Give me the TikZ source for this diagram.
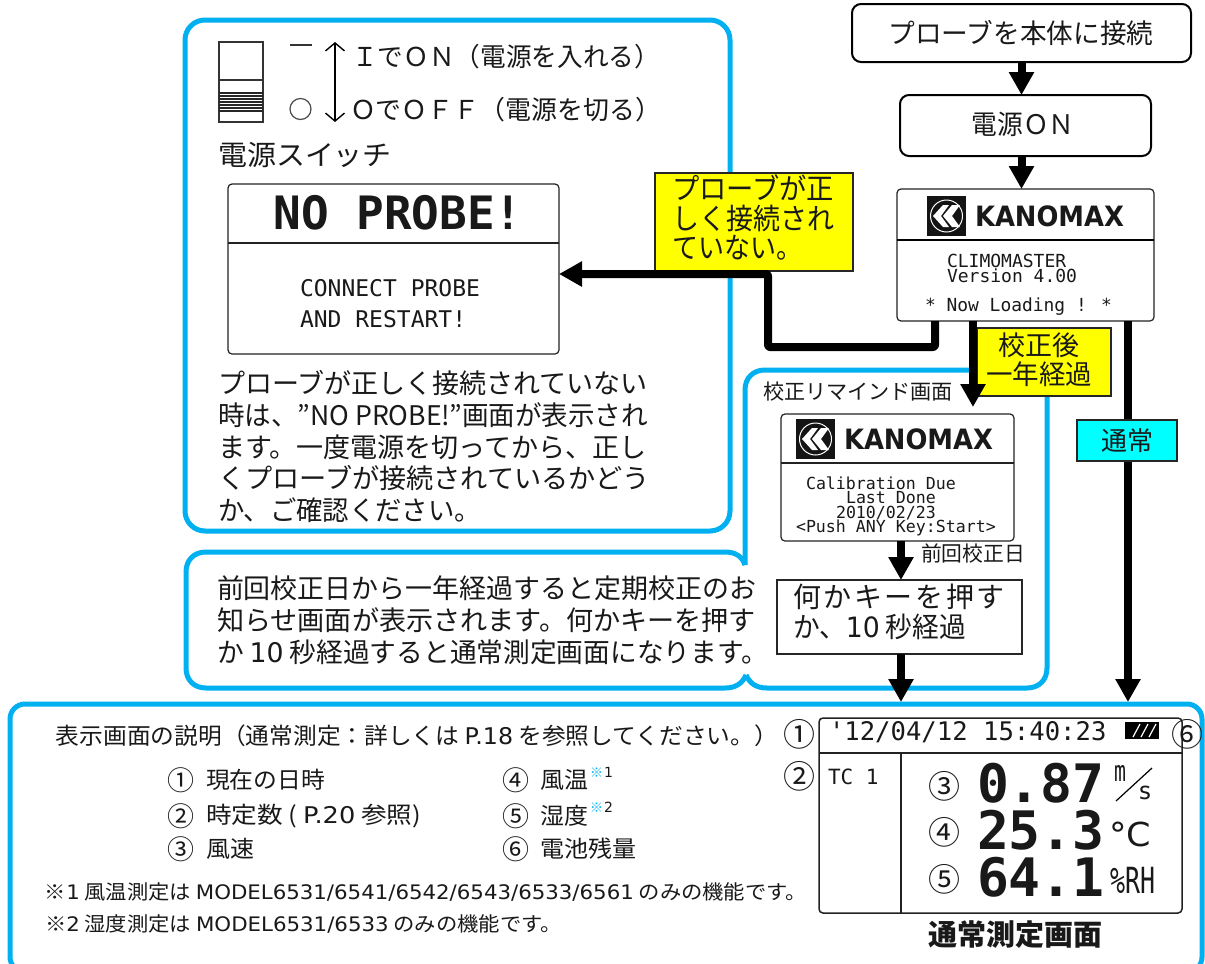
\documentclass[tikz,border=0pt]{standalone}
\usepackage{fontspec}
\usepackage{graphicx}
\usetikzlibrary{arrows.meta,calc}
\setmainfont{Noto Sans CJK JP}
\newfontfamily\monof{DejaVu Sans Mono}
\newfontfamily\djv{DejaVu Sans}
\newcommand\fs[1]{\fontsize{#1pt}{#1pt}\selectfont}
\newcommand\fw[2]{\resizebox{#1pt}{\height}{#2}}
\definecolor{cy}{HTML}{00B0F0}
\definecolor{lcd}{HTML}{222222}
\definecolor{ylw}{HTML}{FFFF00}
\definecolor{cyb}{HTML}{00FFFF}
\tikzset{
  x=1pt,y=-1pt,
  panel/.style={draw=cy,line width=5pt,rounded corners=20pt},
  txt/.style={inner sep=0pt,outer sep=0pt,anchor=west,text=black!90},
  ctxt/.style={inner sep=0pt,outer sep=0pt,anchor=center,text=black!90},
  lcdtxt/.style={txt,font=\monof},
  flowbox/.style={draw=black,line width=2pt,rounded corners=9pt,fill=white,inner sep=0pt,outer sep=0pt},
  screen/.style={draw=lcd,line width=1.2pt,rounded corners=4pt,fill=white,inner sep=0pt,outer sep=0pt},
  plainbox/.style={draw=black!85,line width=2pt,inner sep=0pt,outer sep=0pt},
  yellowbox/.style={plainbox,fill=ylw},
  cyanbox/.style={plainbox,fill=cyb},
  flowarrow/.style={line width=8pt,-{Triangle[length=23pt,width=24pt]}},
  logo/.pic={
    \fill[black!92] (0,0) rectangle (39,40);
    \draw[white,line width=1pt] (19.5,20) circle[radius=16];
    \fill[white] (6,20) -- (16,9) -- (22,9) -- (14,20) -- (22,31) -- (16,31) -- cycle;
    \fill[white] (16,20) -- (25,9) -- (33,9) -- (25,20) -- (33,31) -- (25,31) -- cycle;
    \node[txt,font=\djv\bfseries\fs{28}] (w) at (48,20) {\fw{149}{KANOMAX}};
  }
}
\begin{document}
\begin{tikzpicture}
\useasboundingbox (0,0) rectangle (1205,964);
\fill[white] (0,0) rectangle (1205,964);
% panels
\draw[panel] (185,20) rectangle (730,531);
\draw[cy,line width=5pt,line join=round]
  (745,565) -- (745,390) .. controls (745,378) and (753,370) .. (765,370) -- (1027,370)
  .. controls (1039,370) and (1047,378) .. (1047,390) -- (1047,668)
  .. controls (1047,680) and (1039,688) .. (1027,688) -- (767,688)
  .. controls (757,688) and (750,684) .. (746,675);
\draw[cy,line width=5pt,line join=round]
  (745,565) .. controls (742,556) and (735,552) .. (725,552) -- (206,552)
  .. controls (194,552) and (186,560) .. (186,572) -- (186,668)
  .. controls (186,680) and (194,688) .. (206,688) -- (725,688)
  .. controls (735,688) and (742,684) .. (746,675);
\begin{scope}
\clip (0,0) rectangle (1205,964);
\draw[panel,rounded corners=15pt] (10,704) rectangle (1202,972);
\end{scope}
% switch icon
\draw[black!80,line width=1.4pt] (219,42) rectangle (263,122);
\draw[black!80,line width=1.2pt] (219,80) -- (263,80);
\foreach \yy in {93,96,99,102,105,108,111}{\draw[black!85,line width=1.2pt] (219,\yy) -- (263,\yy);}
\draw[black!80,line width=1.2pt] (290,45) -- (312,45);
\draw[black!70,line width=1.2pt] (300.5,109) circle[radius=10.5];
\coordinate (swtop) at (335,42);
\coordinate (swbot) at (335,122);
\draw[black,line width=1.4pt,{Straight Barb[length=8pt,width=19pt]}-{Straight Barb[length=8pt,width=19pt]}] (swtop) -- (swbot);
\node[txt,font=\fs{26}] (ton) at (352,57) {\fw{308}{ＩでＯＮ（電源を入れる）}};
\node[txt,font=\fs{26}] (toff) at (350,110) {\fw{311}{ＯでＯＦＦ（電源を切る）}};
\node[txt,font=\fs{28}] (swlabel) at (218,155) {\fw{174}{電源スイッチ}};
% no probe screen
\node[screen,minimum width=331pt,minimum height=170pt] (noprobe) at (393.5,269) {};
\draw[lcd,line width=1.2pt] (noprobe.west |- 0,243) -- (noprobe.east |- 0,243);
\node[ctxt,font=\monof\bfseries\fs{46}] (nptitle) at (398,213) {NO PROBE!};
\node[lcdtxt,font=\monof\fs{23}] (np1) at (300,288) {CONNECT PROBE};
\node[lcdtxt,font=\monof\fs{23}] (np2) at (300,319) {AND RESTART!};
% paragraph
\node[txt,font=\fs{27}] (pa1) at (218,383) {\fw{430}{プローブが正しく接続されていない}};
\node[txt,font=\fs{27}] (pa2) at (218,415) {\fw{430}{時は、”NO PROBE!”画面が表示され}};
\node[txt,font=\fs{27}] (pa3) at (218,447) {\fw{429}{ます。一度電源を切ってから、正し}};
\node[txt,font=\fs{27}] (pa4) at (218,478) {\fw{432}{くプローブが接続されているかどう}};
\node[txt,font=\fs{27}] (pa5) at (218,510) {\fw{263}{か、ご確認ください。}};
% panel B text
\node[txt,font=\fs{27}] (pb1) at (217,588) {\fw{539}{前回校正日から一年経過すると定期校正のお}};
\node[txt,font=\fs{27}] (pb2) at (217,620) {\fw{539}{知らせ画面が表示されます。何かキーを押す}};
\node[txt,font=\fs{27}] (pb3) at (217,652) {\fw{551}{か {\djv 10} 秒経過すると通常測定画面になります。}};
% flow boxes
\node[flowbox,minimum width=339pt,minimum height=58pt] (conn) at (1021.5,33) {};
\node[ctxt,font=\fs{27}] (connt) at (1021,33) {\fw{265}{プローブを本体に接続}};
\node[flowbox,minimum width=251pt,minimum height=61pt] (pwr) at (1025.5,125.5) {};
\node[ctxt,font=\fs{27}] (pwrt) at (1023,124) {\fw{103}{電源ＯＮ}};
\node[screen,minimum width=257pt,minimum height=132pt] (kano) at (1025.5,255) {};
\draw[black,line width=1.2pt] (kano.west |- 0,240) -- (kano.east |- 0,240);
\pic (lg1) at (927,196) {logo};
\node[lcdtxt,font=\monof\fs{18}] (k1) at (947,261) {CLIMOMASTER};
\node[lcdtxt,font=\monof\fs{18}] (k2) at (947,276) {Version 4.00};
\node[lcdtxt,font=\monof\fs{18}] (k3) at (925,307) {\fw{187}{* Now Loading ! *}};
% yellow labels
\node[yellowbox,minimum width=198pt,minimum height=98pt] (yl1) at (754,222) {};
\node[txt,font=\fs{29}] (y11) at (672,188) {\fw{162}{プローブが正}};
\node[txt,font=\fs{29}] (y12) at (672,218) {\fw{162}{しく接続され}};
\node[txt,font=\fs{29}] (y13) at (672,248) {\fw{130}{ていない。}};
\node[yellowbox,minimum width=134pt,minimum height=68pt] (yl2) at (1044,362) {};
\node[ctxt,font=\fs{27}] (y21) at (1039,345) {校正後};
\node[ctxt,font=\fs{27}] (y22) at (1039,374) {\fw{106}{一年経過}};
% calibration
\node[txt,font=\fs{21}] (caltitle) at (763,392) {\fw{190}{校正リマインド画面}};
\node[screen,minimum width=233pt,minimum height=127pt] (cal) at (897.5,477.5) {};
\draw[lcd,line width=1.2pt] (cal.west |- 0,463) -- (cal.east |- 0,463);
\pic (lg2) at (796,419) {logo};
\node[lcdtxt,font=\monof\fs{16.6}] (c1) at (806,483) {Calibration Due};
\node[lcdtxt,font=\monof\fs{16.6}] (c2) at (846,498) {Last Done};
\node[lcdtxt,font=\monof\fs{16.6}] (c3) at (836,513) {2010/02/23};
\node[lcdtxt,font=\monof\fs{16.6}] (c4) at (796,528) {<Push ANY Key:Start>};
\node[txt,font=\fs{21}] (lastdate) at (921,553) {\fw{104}{前回校正日}};
\node[plainbox,fill=white,minimum width=245pt,minimum height=74pt] (press) at (899.5,617) {};
\node[txt,font=\fs{28}] (pr1) at (793,597) {\makebox[212pt][s]{何\hfil か\hfil キ\hfil ー\hfil を\hfil 押\hfil す}};
\node[txt,font=\fs{28}] (pr2) at (793,627) {\fw{173}{か、{\djv 10} 秒経過}};
% normal screen
\node[screen,minimum width=363pt,minimum height=195pt,line width=1.5pt] (main) at (1000.5,815.5) {};
\draw[lcd,line width=1.5pt] (main.west |- 0,753) -- (main.east |- 0,753);
\draw[lcd,line width=1.5pt] (901,753) -- (901,0 |- main.south);
\node[lcdtxt,font=\monof\fs{25.6}] (date) at (829,732) {'12/04/12 15:40:23};
\fill[black] (1125,722) rectangle (1159,739);
\foreach \xx in {1133,1141,1149}{\draw[white,line width=1.2pt] (\xx,737) -- (\xx+7,724);}
\node[ctxt,font=\fs{32}] (n1) at (799,734) {①};
\node[ctxt,font=\fs{32}] (n6) at (1187,734) {⑥};
\node[ctxt,font=\fs{32}] (n2) at (799,776) {②};
\node[lcdtxt,font=\monof\fs{21}] (tc) at (828,777) {TC 1};
\node[ctxt,font=\fs{32}] (n3) at (944,786) {③};
\node[ctxt,font=\fs{32}] (n4) at (944,832) {④};
\node[ctxt,font=\fs{32}] (n5) at (944,879) {⑤};
\node[lcdtxt,font=\monof\bfseries\fs{53}] (v1) at (977,783) {0.87};
\node[lcdtxt,font=\monof\bfseries\fs{53}] (v2) at (977,830) {25.3};
\node[lcdtxt,font=\monof\bfseries\fs{53}] (v3) at (977,877) {64.1};
\node[ctxt,font=\monof\fs{22}] (um) at (1120,773) {\scalebox{.9}[1.3]{m}};
\node[ctxt,font=\monof\fs{24}] (us) at (1145,793) {s};
\draw[black,line width=1.2pt] (1116,801) -- (1152,768);
\node[lcdtxt,font=\djv\fs{33}] (uc) at (1109,834) {\fw{42}{°C}};
\node[lcdtxt,font=\monof\fs{24}] (ur) at (1110,880) {\fw{45}{\scalebox{1}[1.5]{\%RH}}};
\node[ctxt,font=\bfseries\fs{29}] (mainlabel) at (1015,935) {\fw{174}{通常測定画面}};
% description
\node[txt,font=\fs{23}] (d0) at (56,736) {\fw{722}{表示画面の説明（通常測定：詳しくは {\djv P.18} を参照してください。）}};
\node[ctxt,font=\fs{27}] (l1) at (181,780) {①};
\node[txt,font=\fs{23}] (l1t) at (206,780) {\fw{119}{現在の日時}};
\node[ctxt,font=\fs{27}] (l2) at (181,816) {②};
\node[txt,font=\fs{23}] (l2t) at (206,816) {\fw{215}{時定数 ( {\djv P.20} 参照)}};
\node[ctxt,font=\fs{27}] (l3) at (181,849) {③};
\node[txt,font=\fs{23}] (l3t) at (206,849) {\fw{48}{風速}};
\node[ctxt,font=\fs{27}] (l4) at (516,780) {④};
\node[txt,font=\fs{23}] (l4t) at (540,780) {\fw{48}{風温}};
\node[txt,font=\fs{13},text=cy] (l4a) at (590,773) {※};
\node[txt,font=\djv\fs{14}] (l4b) at (604,772) {1};
\node[ctxt,font=\fs{27}] (l5) at (516,816) {⑤};
\node[txt,font=\fs{23}] (l5t) at (540,816) {\fw{48}{湿度}};
\node[txt,font=\fs{13},text=cy] (l5a) at (590,808) {※};
\node[txt,font=\djv\fs{14}] (l5b) at (604,807) {2};
\node[ctxt,font=\fs{27}] (l6) at (516,849) {⑥};
\node[txt,font=\fs{23}] (l6t) at (540,849) {\fw{96}{電池残量}};
\node[txt,font=\fs{20}] (f1) at (45,892) {\fw{762}{※{\djv 1} 風温測定は {\djv MODEL6531/6541/6542/6543/6533/6561} のみの機能です。}};
\node[txt,font=\fs{20}] (f2) at (45,924) {\fw{517}{※{\djv 2} 湿度測定は {\djv MODEL6531/6533} のみの機能です。}};
% connectors
\coordinate (xa) at (973,0);
\coordinate (xb) at (935,0);
\coordinate (xc) at (768,0);
\coordinate (xd) at (1128,0);
\coordinate (ya) at (0,274);
\coordinate (yb) at (0,347);
\draw[flowarrow] (conn) -- (conn |- pwr.north);
\draw[flowarrow] (conn |- pwr.south) -- (conn |- kano.north);
\draw[flowarrow,line join=round,rounded corners=2pt] (xb |- kano.south) -- (xb |- yb) -- (xc |- yb) -- (xc |- ya) -- (noprobe.east |- ya);
\draw[flowarrow,shorten >=7pt] (xa |- kano.south) -- (xa |- cal.north);
\coordinate (xe) at (901,0);
\draw[flowarrow] (xe |- cal.south) -- (xe |- press.north);
\coordinate (dtop) at (0,702);
\draw[flowarrow] (xe |- press.south) -- (xe |- dtop);
\draw[flowarrow] (xd |- kano.south) -- (xd |- dtop);
\node[cyanbox,minimum width=100pt,minimum height=41pt] (ok) at (1127,440.5) {};
\node[ctxt,font=\fs{26}] (okt) at (1127,441) {通常};
\end{tikzpicture}
\end{document}
